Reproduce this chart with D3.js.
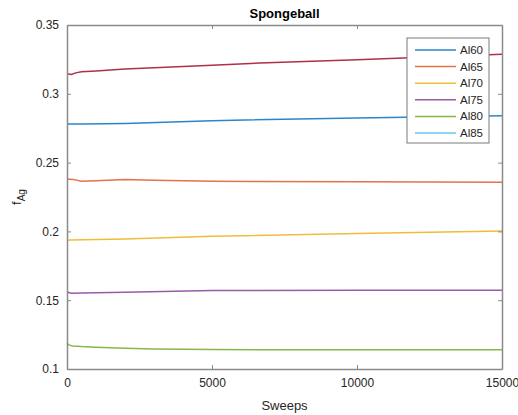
<!DOCTYPE html>
<html><head><meta charset="utf-8">
<script src="https://cdn.jsdelivr.net/npm/d3@7"></script>
<style>body{margin:0;background:#fff;} svg{display:block;font-family:"Liberation Sans",Arial,sans-serif;}</style>
</head><body>
<script>
const title = "Spongeball";
const xLabel = "Sweeps";
const xTicks = [0, 5000, 10000, 15000];
const yTicks = [0.1, 0.15, 0.2, 0.25, 0.3, 0.35];
const legendNames = ["Al60", "Al65", "Al70", "Al75", "Al80", "Al85"];
const colors = ["#2a86cc", "#e37447", "#f0bd3a", "#9a5aa6", "#86b84a", "#66c8f0", "#b0304a"];

const al60 = [[0,0.278],[500,0.2781],[2000,0.2785],[5000,0.2805],[10000,0.2825],[15000,0.2841]];
const al65 = [[0,0.238],[200,0.2378],[500,0.2365],[1000,0.2368],[2000,0.2377],[3000,0.2372],[5000,0.2364],[10000,0.236],[15000,0.2357]];
const al70 = [[0,0.1935],[100,0.1938],[2000,0.1945],[5000,0.1964],[10000,0.1985],[15000,0.2003]];
const al75 = [[0,0.156],[150,0.1551],[500,0.1553],[2000,0.1557],[5000,0.1571],[10000,0.1572],[15000,0.1572]];
const al80 = [[0,0.1188],[60,0.1175],[200,0.1168],[500,0.1163],[1000,0.1158],[2000,0.1151],[3000,0.1146],[5000,0.1141],[10000,0.1140],[15000,0.1140]];
const al85 = [];
const extra = [[0,0.3145],[150,0.314],[300,0.3152],[500,0.316],[1000,0.3166],[2000,0.318],[5000,0.3208],[6650,0.3224],[10000,0.3248],[15000,0.3288]];
const series = [al60, al65, al70, al75, al80, al85, extra];

const W = 518, H = 415;
const m = {left: 67, right: 16, top: 25, bottom: 46};
const svg = d3.select("body").append("svg").attr("width", W).attr("height", H);
const x = d3.scaleLinear().domain([0, 15000]).range([m.left, W - m.right]);
const y = d3.scaleLinear().domain([0.1, 0.35]).range([H - m.bottom, m.top]);
const axisCol = "#8a8a8a", textCol = "#262626";

// lines
const line = d3.line().x(d => x(d[0])).y(d => y(d[1]));
series.forEach((s, i) => {
  if (!s.length) return;
  svg.append("path").attr("d", line(s)).attr("fill", "none")
    .attr("stroke", colors[i]).attr("stroke-width", 1.5);
});

// axes
const fmt = d => String(d);
const gx = svg.append("g").attr("transform", `translate(0,${y(0.1)})`)
  .call(d3.axisBottom(x).tickValues(xTicks).tickFormat(fmt).tickSizeInner(-4).tickSizeOuter(0).tickPadding(9));
const gxt = svg.append("g").attr("transform", `translate(0,${y(0.35)})`)
  .call(d3.axisTop(x).tickValues(xTicks).tickFormat("").tickSizeInner(-4).tickSizeOuter(0));
const gy = svg.append("g").attr("transform", `translate(${x(0)},0)`)
  .call(d3.axisLeft(y).tickValues(yTicks).tickFormat(d => d3.format("")(+d.toFixed(2))).tickSizeInner(-4).tickSizeOuter(0).tickPadding(8));
const gyr = svg.append("g").attr("transform", `translate(${x(15000)},0)`)
  .call(d3.axisRight(y).tickValues(yTicks).tickFormat("").tickSizeInner(-4).tickSizeOuter(0));
[gx, gxt, gy, gyr].forEach(g => {
  g.selectAll("path.domain").attr("stroke", axisCol).attr("stroke-width", 1.5);
  g.selectAll(".tick line").attr("stroke", axisCol);
  g.selectAll("text").attr("fill", textCol).style("font-size", "12px");
});

// title & labels
svg.append("text").attr("x", (x(0)+x(15000))/2).attr("y", 18).attr("text-anchor", "middle")
  .style("font-size", "13px").style("font-weight", "bold").attr("fill", "#000").text(title);
svg.append("text").attr("x", (x(0)+x(15000))/2).attr("y", 410).attr("text-anchor", "middle")
  .style("font-size", "13px").attr("fill", textCol).text(xLabel);
const yl = svg.append("text").attr("transform", `translate(21,${(y(0.1)+y(0.35))/2}) rotate(-90)`)
  .attr("text-anchor", "middle").attr("fill", textCol).style("font-size", "13px");
yl.append("tspan").text("f");
yl.append("tspan").attr("dy", 4).style("font-size", "10px").text("Ag");

// legend
const lg = svg.append("g").attr("transform", "translate(407,38)");
lg.append("rect").attr("width", 82).attr("height", 105).attr("fill", "#fff").attr("stroke", "#7a7a7a").attr("stroke-width", 1);
legendNames.forEach((n, i) => {
  const yy = 12 + i * 16.6;
  lg.append("line").attr("x1", 8).attr("x2", 49).attr("y1", yy).attr("y2", yy).attr("stroke", colors[i]).attr("stroke-width", 1.5);
  lg.append("text").attr("x", 53).attr("y", yy + 4).style("font-size", "11.5px").attr("fill", textCol).text(n);
});
</script>
</body></html>
